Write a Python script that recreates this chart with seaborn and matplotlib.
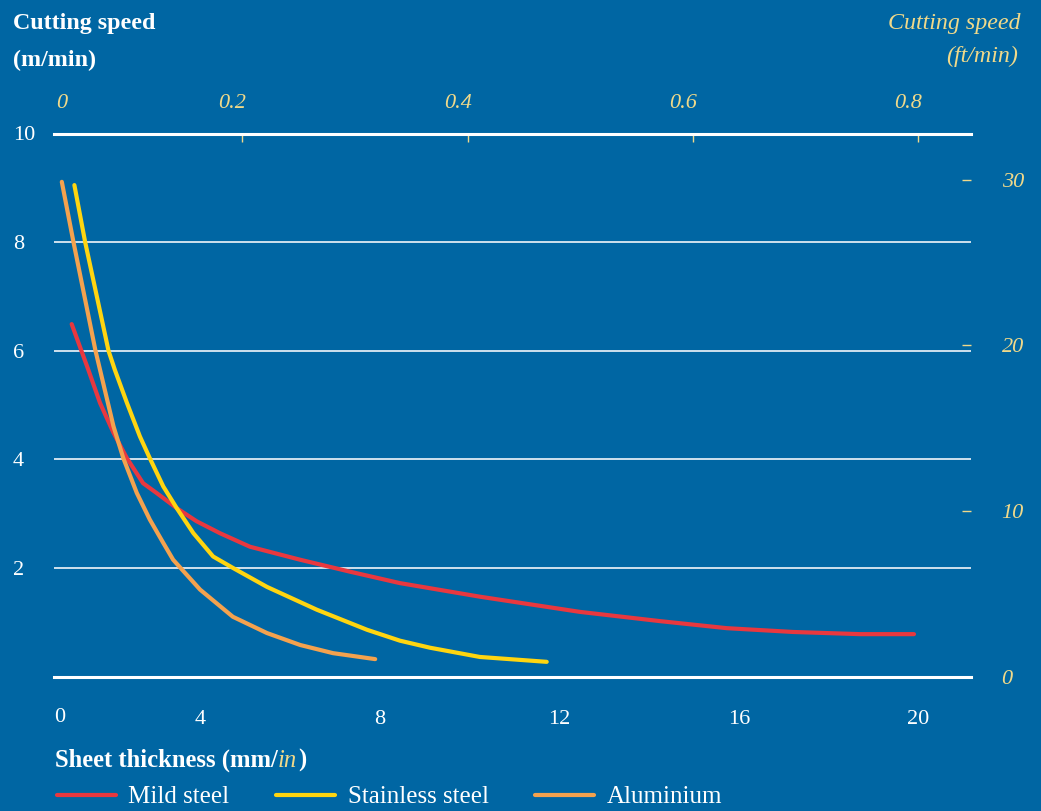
import seaborn as sns
import matplotlib.pyplot as plt
import matplotlib.transforms as mtransforms
import pandas as pd

# Curves: sheet thickness (mm) -> cutting speed (m/min)
mild_x = [1.14, 1.51, 1.77, 2.07, 2.37, 2.73, 3.03, 3.48, 3.92, 4.44, 5.11, 6.23,
          7.34, 8.45, 10.23, 12.46, 14.24, 15.73, 17.21, 18.7, 19.9]
mild_y = [6.49, 5.65, 5.04, 4.49, 4.02, 3.56, 3.38, 3.10, 2.86, 2.64, 2.39, 2.15,
          1.93, 1.72, 1.47, 1.19, 1.02, 0.89, 0.82, 0.78, 0.78]

stainless_x = [1.20, 1.44, 1.96, 2.10, 2.37, 2.66, 2.88, 3.18, 3.48, 3.85, 4.29,
               4.73, 5.49, 6.60, 7.72, 8.45, 9.12, 10.23, 11.72]
stainless_y = [9.05, 8.00, 6.00, 5.65, 5.04, 4.42, 4.02, 3.50, 3.10, 2.64, 2.21,
               2.00, 1.65, 1.23, 0.86, 0.66, 0.53, 0.36, 0.27]

alu_x = [0.92, 1.18, 1.67, 2.07, 2.29, 2.59, 2.88, 3.18, 3.40, 4.00, 4.73, 5.49,
         6.23, 6.96, 7.90]
alu_y = [9.11, 8.00, 6.00, 4.61, 4.02, 3.38, 2.89, 2.46, 2.15, 1.60, 1.10, 0.80,
         0.58, 0.43, 0.32]

materials = ["Mild steel", "Stainless steel", "Aluminium"]
mm_ticks = [4, 8, 12, 16, 20]
speed_ticks = [2, 4, 6, 8, 10]
inch_ticks = [0.2, 0.4, 0.6, 0.8]
ft_ticks = [0, 10, 20, 30]

df = pd.concat([
    pd.DataFrame({"thickness": mild_x, "speed": mild_y, "material": materials[0]}),
    pd.DataFrame({"thickness": stainless_x, "speed": stainless_y, "material": materials[1]}),
    pd.DataFrame({"thickness": alu_x, "speed": alu_y, "material": materials[2]}),
])

BG = "#0066a3"
WHITE = "#ffffff"
PALE = "#f0d98a"
palette = {"Mild steel": "#e8383f", "Stainless steel": "#ffd510", "Aluminium": "#f4a24e"}

sns.set_style("white")
plt.rcParams["font.family"] = ["Liberation Serif", "DejaVu Serif"]

W, H = 1041, 811
fig = plt.figure(figsize=(W / 100, H / 100), dpi=100, facecolor=BG)
ax = fig.add_axes([54 / W, (H - 676.5) / H, (971 - 54) / W, (676.5 - 133.5) / H])
ax.set_facecolor(BG)

sns.lineplot(data=df, x="thickness", y="speed", hue="material", palette=palette,
             hue_order=materials, linewidth=3, estimator=None, sort=False, ax=ax)

ax.set_xlim(0.746, 21.17)
ax.set_ylim(0, 10)

# spines and grid
for s in ["left", "right"]:
    ax.spines[s].set_visible(False)
for s in ["top", "bottom"]:
    ax.spines[s].set_color(WHITE)
    ax.spines[s].set_linewidth(2.2)
ax.grid(axis="y", color="#dfeaf3", linewidth=1.3)
ax.grid(axis="x", visible=False)

ax.set_xticks(mm_ticks)
ax.set_xticklabels([str(t) for t in mm_ticks])
ax.tick_params(axis="x", direction="in", length=9, width=1.2, color=WHITE,
               labelcolor=WHITE, labelsize=16, pad=24)
ax.set_yticks(speed_ticks)
ax.set_yticklabels([str(t) for t in speed_ticks], ha="left")
ax.tick_params(axis="y", length=0, labelcolor=WHITE, labelsize=16, pad=29.5)
ax.set_xlabel("")
ax.set_ylabel("")

# top axis in inches (the chart's own spacing: 0.8 in sits on the 20 mm tick)
top = ax.secondary_xaxis("top", functions=(lambda x: (x + 0.078) / 25.09,
                                           lambda v: v * 25.09 - 0.078))
top.set_xticks(inch_ticks)
top.set_xticklabels([f"{t:.1f}" for t in inch_ticks], style="italic")
top.tick_params(direction="in", length=6.5, width=1, color=PALE, labelcolor=PALE,
                labelsize=16, pad=15)
top.spines["top"].set_visible(False)
shift = mtransforms.ScaledTranslation(-0.1, 0, fig.dpi_scale_trans)
for lab in top.get_xticklabels():
    lab.set_transform(lab.get_transform() + shift)

# right axis in ft/min
right = ax.secondary_yaxis("right", functions=(lambda y: y / 0.3048, lambda y: y * 0.3048))
right.set_yticks(ft_ticks)
right.set_yticklabels([str(t) for t in ft_ticks], style="italic")
right.tick_params(direction="in", length=6.5, width=1, color=PALE, labelcolor=PALE,
                  labelsize=16, pad=22)
right.spines["right"].set_visible(False)

# the "0" labels at the start of both thickness axes
fig.text(60 / W, 1 - 718 / H, "0", color=WHITE, fontsize=16, ha="center", va="center")
fig.text(62 / W, 1 - 103 / H, "0", color=PALE, fontsize=16, style="italic",
         ha="center", va="center")

# axis titles
fig.text(13 / W, 1 - 29 / H, "Cutting speed", color=WHITE, fontsize=17.3,
         fontweight="bold", va="baseline")
fig.text(13 / W, 1 - 66 / H, "(m/min)", color=WHITE, fontsize=17.3,
         fontweight="bold", va="baseline")
fig.text(1020 / W, 1 - 29 / H, "Cutting speed", color=PALE, fontsize=17.3,
         style="italic", ha="right", va="baseline")
fig.text(1018 / W, 1 - 62 / H, "(ft/min)", color=PALE, fontsize=17.3,
         style="italic", ha="right", va="baseline")

r = fig.canvas.get_renderer()
yb = 1 - 767 / H
t1 = fig.text(55 / W, yb, "Sheet thickness (mm/", color=WHITE, fontsize=17.7,
              fontweight="bold", va="baseline")
b1 = t1.get_window_extent(r)
t2 = fig.text(b1.x1 / W, yb, "in", color=PALE, fontsize=17.7, style="italic",
              va="baseline")
b2 = t2.get_window_extent(r)
fig.text(b2.x1 / W + 1 / W, yb, ")", color=WHITE, fontsize=17.7,
         fontweight="bold", va="baseline")

# legend along the bottom
handles, labels = ax.get_legend_handles_labels()
ax.get_legend().remove()
leg = fig.legend(handles, labels, loc="center left", bbox_to_anchor=(57 / W, 1 - 797 / H),
                 ncol=3, frameon=False, fontsize=18, handlelength=2.36,
                 handletextpad=0.5, columnspacing=1.86, borderpad=0, borderaxespad=0)
for t in leg.get_texts():
    t.set_color(WHITE)
for l in leg.get_lines():
    l.set_linewidth(3)

fig.savefig("out.png", dpi=100, facecolor=BG)
